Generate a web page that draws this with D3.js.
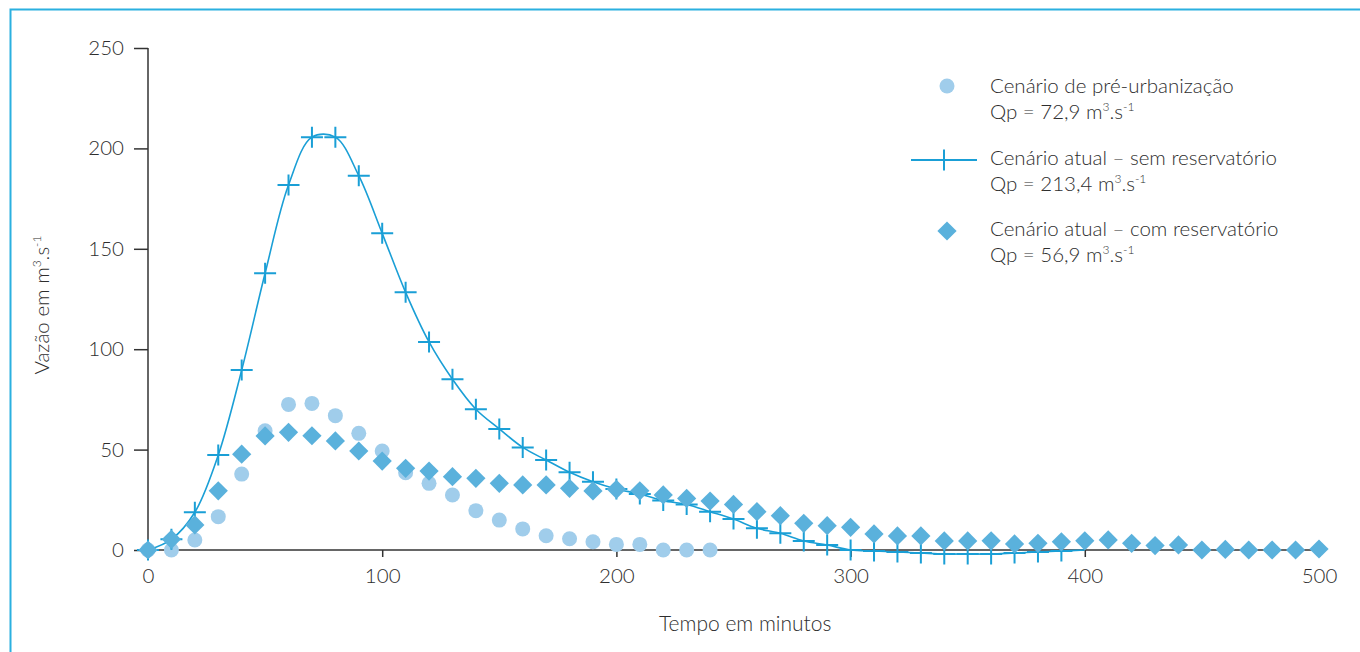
<!DOCTYPE html>
<html>
<head>
<meta charset="utf-8">
<script src="https://cdn.jsdelivr.net/npm/d3@7"></script>
<style>
  body { margin: 0; background: #fff; }
  text { font-family: Lato, "Open Sans", sans-serif; font-weight: 300; fill: #2e2e2e; }
</style>
</head>
<body>
<svg id="chart"></svg>
<script>
// dados (tempo em minutos, vazão em m3/s)
var tempoPre = d3.range(0, 250, 10);
var vazaoPre = [0, 0, 5, 16.6, 37.8, 59.4, 72.5, 73, 66.9, 58.1, 49.3, 38.5, 33.2, 27.4, 19.6, 14.9,
  10.5, 7.1, 5.6, 4.1, 2.8, 2.8, 0, 0, 0];

var tempoSem = d3.range(0, 410, 10);
var vazaoSem = [0, 5.3, 18.8, 47.3, 89.6, 137.8, 181.8, 205.6, 205.6, 186.4, 157.7, 128.3, 103.6, 85.0,
  70.1, 60.3, 51.1, 44.8, 38.7, 34.0, 30.4, 27.9, 24.6, 22.7, 19.1, 15.4, 10.8, 8.3, 4.5, 2.5, 0,
  -0.5, -1, -1.5, -2, -2, -2, -1.5, -1, -0.5, 0];

var tempoCom = d3.range(0, 510, 10);
var vazaoCom = [0, 5.3, 12.5, 29.5, 47.7, 56.8, 58.6, 56.9, 54.3, 49.3, 44.3, 40.7, 39.3, 36.5, 35.7,
  33.2, 32.4, 32.4, 30.7, 29.4, 30.2, 29.5, 27.4, 25.7, 24.4, 22.7, 19.1, 17.1, 13.3, 12.1, 11.3,
  8.0, 7.0, 7.0, 4.5, 4.5, 4.6, 3.0, 3.3, 4.1, 4.6, 5.0, 3.3, 2.2, 2.5, 0, 0.3, 0, 0, 0, 0.5];

var xTicks = [0, 100, 200, 300, 400, 500];
var yTicks = [0, 50, 100, 150, 200, 250];

var legendItens = ["Cenário de pré-urbanização", "Cenário atual – sem reservatório", "Cenário atual – com reservatório"];
var legendQp = ["72,9", "213,4", "56,9"];

// tamanho e margens
var size = { width: 1360, height: 652 };
var margin = { top: 48, right: 41, bottom: 102, left: 148 };
var width = size.width - margin.left - margin.right;
var height = size.height - margin.top - margin.bottom;

var corPre = "#a0cdeb";
var corSem = "#1a9fd6";
var corCom = "#5ab1dc";

var svg = d3.select("#chart")
  .attr("width", size.width)
  .attr("height", size.height);

// moldura azul
svg.append("path")
  .attr("d", "M10.5," + size.height + "V9.5H" + size.width)
  .attr("fill", "none")
  .attr("stroke", "#2bb0e0")
  .attr("stroke-width", 2);

var g = svg.append("g")
  .attr("transform", "translate(" + margin.left + "," + margin.top + ")");

var x = d3.scaleLinear().domain([0, 500]).range([0, width]);
var y = d3.scaleLinear().domain([0, 250]).range([height, 0]);

var xAxis = d3.axisBottom(x).tickValues(xTicks).tickSize(7).tickPadding(11);
var yAxis = d3.axisLeft(y).tickValues(yTicks).tickSize(14).tickPadding(10);

var gx = g.append("g")
  .attr("transform", "translate(0," + height + ")")
  .call(xAxis);
var gy = g.append("g").call(yAxis);

[gx, gy].forEach(function(a){
  a.select(".domain").attr("stroke", "#333").attr("stroke-width", 1.5);
  a.selectAll(".tick line").attr("stroke", "#333").attr("stroke-width", 1.5);
  a.selectAll(".tick text")
    .style("font-family", "Lato, 'Open Sans', sans-serif")
    .style("font-weight", 300)
    .style("font-size", "20.5px")
    .attr("fill", "#2e2e2e");
});
gx.select(".domain").attr("d", "M0,0H" + width);
gy.select(".domain").attr("d", "M0,0V" + (height + 7));

// títulos dos eixos
g.append("text")
  .attr("x", x(255))
  .attr("y", height + 81)
  .attr("text-anchor", "middle")
  .style("font-size", "21px")
  .text("Tempo em minutos");

var yTitle = g.append("text")
  .attr("transform", "translate(" + (-99) + "," + y(122) + ") rotate(-90)")
  .attr("text-anchor", "middle")
  .style("font-size", "20.5px");
yTitle.append("tspan").text("Vazão em m");
yTitle.append("tspan").attr("dy", -8).style("font-size", "12px").text("3");
yTitle.append("tspan").attr("dy", 8).text(".s");
yTitle.append("tspan").attr("dy", -8).style("font-size", "12px").text("-1");

// pré-urbanização (círculos)
var dadosPre = tempoPre.map(function(t, i){ return { t: t, v: vazaoPre[i] }; });
var dadosSem = tempoSem.map(function(t, i){ return { t: t, v: vazaoSem[i] }; });
var dadosCom = tempoCom.map(function(t, i){ return { t: t, v: vazaoCom[i] }; });

g.append("g").selectAll("circle")
  .data(dadosPre)
  .enter()
  .append("circle")
  .attr("cx", function(d){ return x(d.t); })
  .attr("cy", function(d){ return y(d.v); })
  .attr("r", 7.5)
  .attr("fill", corPre);

// sem reservatório (linha + cruzes)
var line = d3.line()
  .curve(d3.curveCatmullRom)
  .x(function(d){ return x(d.t); })
  .y(function(d){ return y(d.v); });

g.append("path")
  .datum(dadosSem)
  .attr("d", line)
  .attr("fill", "none")
  .attr("stroke", corSem)
  .attr("stroke-width", 1.6);

g.append("g").selectAll("path")
  .data(dadosSem.filter(function(d){ return d.t < 400; }))
  .enter()
  .append("path")
  .attr("transform", function(d){ return "translate(" + x(d.t) + "," + y(d.v) + ")"; })
  .attr("d", "M-11,0H11M0,-10.5V10.5")
  .attr("stroke", corSem)
  .attr("stroke-width", 2)
  .attr("fill", "none");

// com reservatório (losangos)
var losango = d3.symbol().type(d3.symbolSquare).size(185);

g.append("g").selectAll("path")
  .data(dadosCom)
  .enter()
  .append("path")
  .attr("transform", function(d){ return "translate(" + x(d.t) + "," + y(d.v) + ") rotate(45)"; })
  .attr("d", losango)
  .attr("fill", corCom);

// legenda
var legY = [86, 160, 231];
var legend = svg.append("g");

legend.append("circle")
  .attr("cx", 947).attr("cy", legY[0]).attr("r", 7.5)
  .attr("fill", corPre);
legend.append("path")
  .attr("d", "M911," + legY[1] + "H977M944," + (legY[1] - 10.5) + "V" + (legY[1] + 10.5))
  .attr("stroke", corSem).attr("stroke-width", 2).attr("fill", "none");
legend.append("path")
  .attr("transform", "translate(947," + legY[2] + ") rotate(45)")
  .attr("d", losango)
  .attr("fill", corCom);

legendItens.forEach(function(nome, i){
  var ty = legY[i] - (i == 0 ? 0 : 2);
  legend.append("text")
    .attr("x", 990).attr("y", ty + 7)
    .style("font-size", "20.5px")
    .text(nome);
  var qp = legend.append("text")
    .attr("x", 990).attr("y", ty + 33)
    .style("font-size", "20.5px");
  qp.append("tspan").text("Qp = " + legendQp[i] + " m");
  qp.append("tspan").attr("dy", -8).style("font-size", "12px").text("3");
  qp.append("tspan").attr("dy", 8).text(".s");
  qp.append("tspan").attr("dy", -8).style("font-size", "12px").text("-1");
});
</script>
</body>
</html>
